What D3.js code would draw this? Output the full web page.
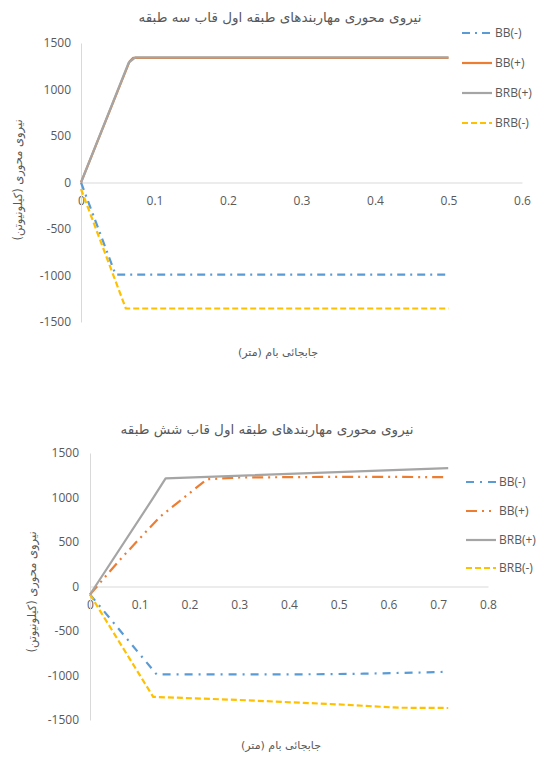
<!DOCTYPE html>
<html><head><meta charset="utf-8">
<script src="https://cdn.jsdelivr.net/npm/d3@7"></script>
<style>
html,body{margin:0;padding:0;background:#fff;}
svg{display:block;}
text{font-family:"Open Sans","DejaVu Sans",sans-serif;fill:#595959;}
</style></head>
<body>
<svg id="c" width="543" height="760"></svg>
<script>
// ---- data ----
const seriesNames = ["BB(-)", "BB(+)", "BRB(+)", "BRB(-)"];
const colors = ["#5B9BD5", "#ED7D31", "#A5A5A5", "#FFC000"];

const title1 = "نیروی محوری مهاربندهای طبقه اول قاب سه طبقه";
const title2 = "نیروی محوری مهاربندهای طبقه اول قاب شش طبقه";
const xTitle = "جابجائی بام (متر)";
const yTitle = "نیروی محوری (کیلونیوتن)";

const yTicks = [-1500, -1000, -500, 0, 500, 1000, 1500];
const xTicks1 = [0, 0.1, 0.2, 0.3, 0.4, 0.5, 0.6];
const xTicks2 = [0, 0.1, 0.2, 0.3, 0.4, 0.5, 0.6, 0.7, 0.8];

// chart 1 (three-storey) : [displacement, force]
const c1_BBm  = [[0,0],[0.047,-990],[0.5,-990]];
const c1_BBp  = [[0,0],[0.066,1300],[0.071,1340],[0.5,1340]];
const c1_BRBp = [[0,0],[0.065,1290],[0.074,1345],[0.5,1345]];
const c1_BRBm = [[0,-70],[0.061,-1355],[0.5,-1355]];

// chart 2 (six-storey)
const c2_BBm  = [[0,-90],[0.134,-988],[0.3,-988],[0.45,-986],[0.55,-980],[0.65,-968],[0.71,-960]];
const c2_BBp  = [[0,-90],[0.06,300],[0.14,780],[0.235,1205],[0.3,1225],[0.5,1232],[0.6,1232],[0.71,1228]];
const c2_BRBp = [[0,-90],[0.127,995],[0.152,1215],[0.72,1330]];
const c2_BRBm = [[0,-90],[0.127,-1240],[0.3,-1275],[0.5,-1325],[0.62,-1362],[0.72,-1365]];

const dashes1 = ["8,5,2,5", null, null, "6,3"];
const dashes2 = ["8,6,2,6", "11,5,2,5,2,5", null, "6,3"];

const svg = d3.select("#c");

function drawChart(o) {
  const g = svg.append("g");
  const x = d3.scaleLinear().domain(o.xDomain).range(o.xRange);
  const y = d3.scaleLinear().domain([-1500, 1500]).range(o.yRange);

  // axes
  const xa = g.append("g").attr("transform", `translate(0,${y(0)})`)
    .call(d3.axisBottom(x).tickValues(o.xTicks).tickSize(0).tickPadding(14).tickFormat(d => String(d)));
  xa.select(".domain").attr("stroke", "#d9d9d9").attr("stroke-width", 1);
  xa.selectAll("text").style("font-size", "12px").attr("fill", "#595959").style("font-family", '"Open Sans",sans-serif');

  const ya = g.append("g").attr("transform", `translate(${x(0)},0)`)
    .call(d3.axisLeft(y).tickValues(yTicks).tickSize(0).tickPadding(o.yPad).tickFormat(d => String(d)));
  ya.select(".domain").attr("stroke", "#d9d9d9").attr("stroke-width", 1);
  ya.selectAll("text").style("font-size", "12px").attr("fill", "#595959").style("font-family", '"Open Sans",sans-serif');

  const line = d3.line().x(d => x(d[0])).y(d => y(d[1]));
  // draw order: BB(-), BRB(-), BB(+), BRB(+) (gray on top)
  const order = [0, 3, 1, 2];
  order.forEach(i => {
    g.append("path").datum(o.series[i])
      .attr("d", line).attr("fill", "none")
      .attr("stroke", colors[i]).attr("stroke-width", 2.2)
      .attr("stroke-linejoin", "round")
      .attr("stroke-dasharray", o.dashes[i]);
  });

  // titles
  g.append("text").attr("x", o.titleX).attr("y", o.titleY).attr("text-anchor", "middle")
    .style("font-size", "13.5px").style("font-family", '"DejaVu Sans",sans-serif').text(o.title);
  g.append("text").attr("x", o.xtX).attr("y", o.xtY).attr("text-anchor", "middle")
    .style("font-size", "11px").style("font-family", '"DejaVu Sans",sans-serif').text(xTitle);
  g.append("text").attr("transform", `translate(${o.ytX},${o.ytY}) rotate(-90)`).attr("text-anchor", "middle")
    .style("font-size", "11.5px").style("font-family", '"DejaVu Sans",sans-serif').text(yTitle);

  // legend
  seriesNames.forEach((n, i) => {
    const ly = o.legY[i];
    g.append("line").attr("x1", o.legX).attr("x2", o.legX + 30).attr("y1", ly).attr("y2", ly)
      .attr("stroke", colors[i]).attr("stroke-width", 2.2).attr("stroke-dasharray", o.dashes[i]);
    g.append("text").attr("x", o.legX + 33).attr("y", ly).attr("dy", "0.35em")
      .style("font-size", "12px").style("font-family", '"Open Sans",sans-serif').text(n);
  });
}

drawChart({
  xDomain: [0, 0.6], xRange: [81, 522], yRange: [322, 43], xTicks: xTicks1, yPad: 10,
  series: [c1_BBm, c1_BBp, c1_BRBp, c1_BRBm], dashes: dashes1,
  title: title1, titleX: 280, titleY: 22,
  xtX: 278, xtY: 356, ytX: 22, ytY: 180,
  legX: 462, legY: [33, 63, 93, 123]
});

drawChart({
  xDomain: [0, 0.8], xRange: [90, 488], yRange: [720, 453], xTicks: xTicks2, yPad: 11,
  series: [c2_BBm, c2_BBp, c2_BRBp, c2_BRBm], dashes: dashes2,
  title: title2, titleX: 267, titleY: 434,
  xtX: 281, xtY: 749, ytX: 36, ytY: 592,
  legX: 466, legY: [482, 511, 540, 568]
});
</script>
</body></html>
